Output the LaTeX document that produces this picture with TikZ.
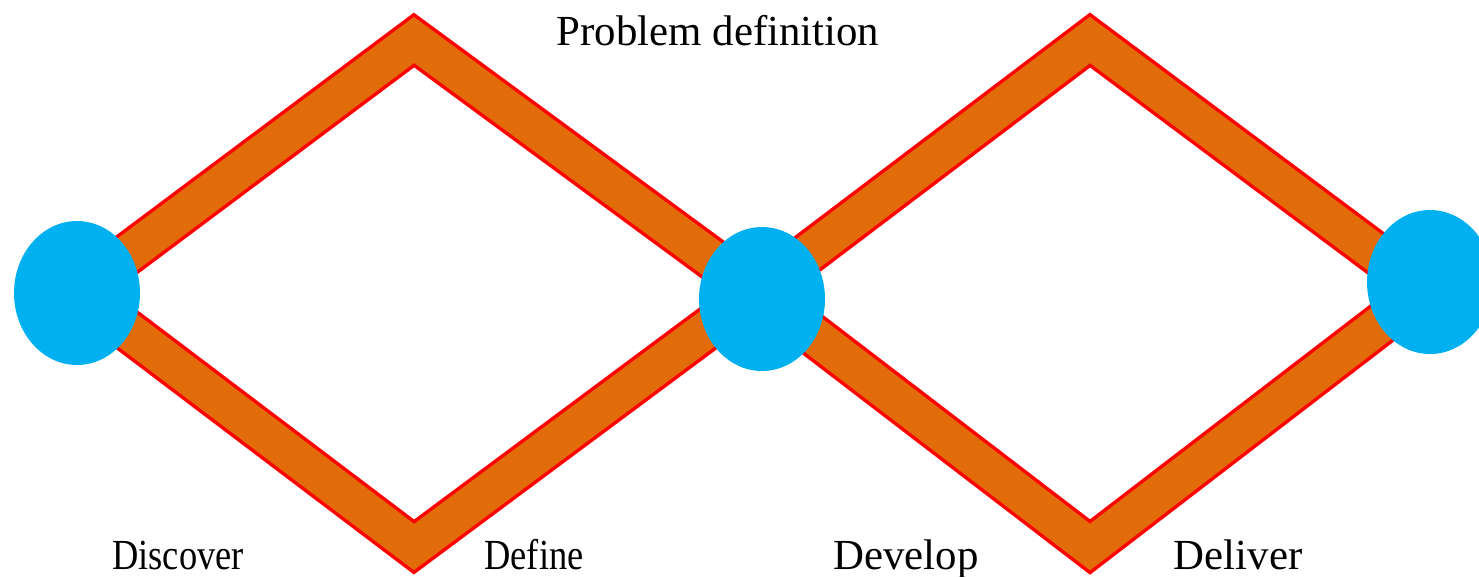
\documentclass[tikz,border=0pt]{standalone}
\usepackage{fontspec}
\setmainfont{Liberation Serif}
\usetikzlibrary{shapes.geometric}
\definecolor{bandorange}{RGB}{227,108,10}
\definecolor{bandred}{RGB}{255,0,0}
\definecolor{stageblue}{RGB}{0,176,240}
\tikzset{
  bandedge/.style={draw=bandred, line width=0.88cm, line join=miter},
  bandfill/.style={draw=bandorange, line width=0.74cm, line join=miter},
  stage/.style={ellipse, fill=stageblue, minimum width=2.52cm, minimum height=2.88cm, inner sep=0pt},
  phase/.style={anchor=base, inner sep=0pt, font=\fontsize{24.4}{28}\selectfont}
}

\begin{document}
\begin{tikzpicture}[x=0.02cm, y=-0.02cm]
  \path[fill=white, use as bounding box] (0,0) rectangle (1479,576);
  % diamond corners
  \coordinate (v1) at (77,292);
  \coordinate (t1) at (414,40);
  \coordinate (v2) at (757,292);
  \coordinate (b1) at (414,547);
  \coordinate (t2) at (1090,40);
  \coordinate (v3) at (1425,290);
  \coordinate (b2) at (1090,547);

  % the two bands
  \draw[bandedge] (v1) -- (t1) -- (v2) -- (b1) -- cycle;
  \draw[bandfill] (v1) -- (t1) -- (v2) -- (b1) -- cycle;
  \draw[bandedge] (v2) -- (t2) -- (v3) -- (b2) -- cycle;
  \draw[bandfill] (v2) -- (t2) -- (v3) -- (b2) -- cycle;

  \node[stage] (start) at (77,293) {};
  \node[stage] (mid) at (762,299) {};
  \node[stage] (finish) at (1430,282) {};

  \node[phase] (problem) at (718,45) {Problem definition};
  \node[phase] (discover) at (178,569) {\scalebox{0.85}[1]{Discover}};
  \node[phase] (define) at (534,569) {\scalebox{0.85}[1]{Define}};
  \node[phase] (develop) at (906,569) {Develop};
  \node[phase] (deliver) at (1238,569) {Deliver};
\end{tikzpicture}
\end{document}
